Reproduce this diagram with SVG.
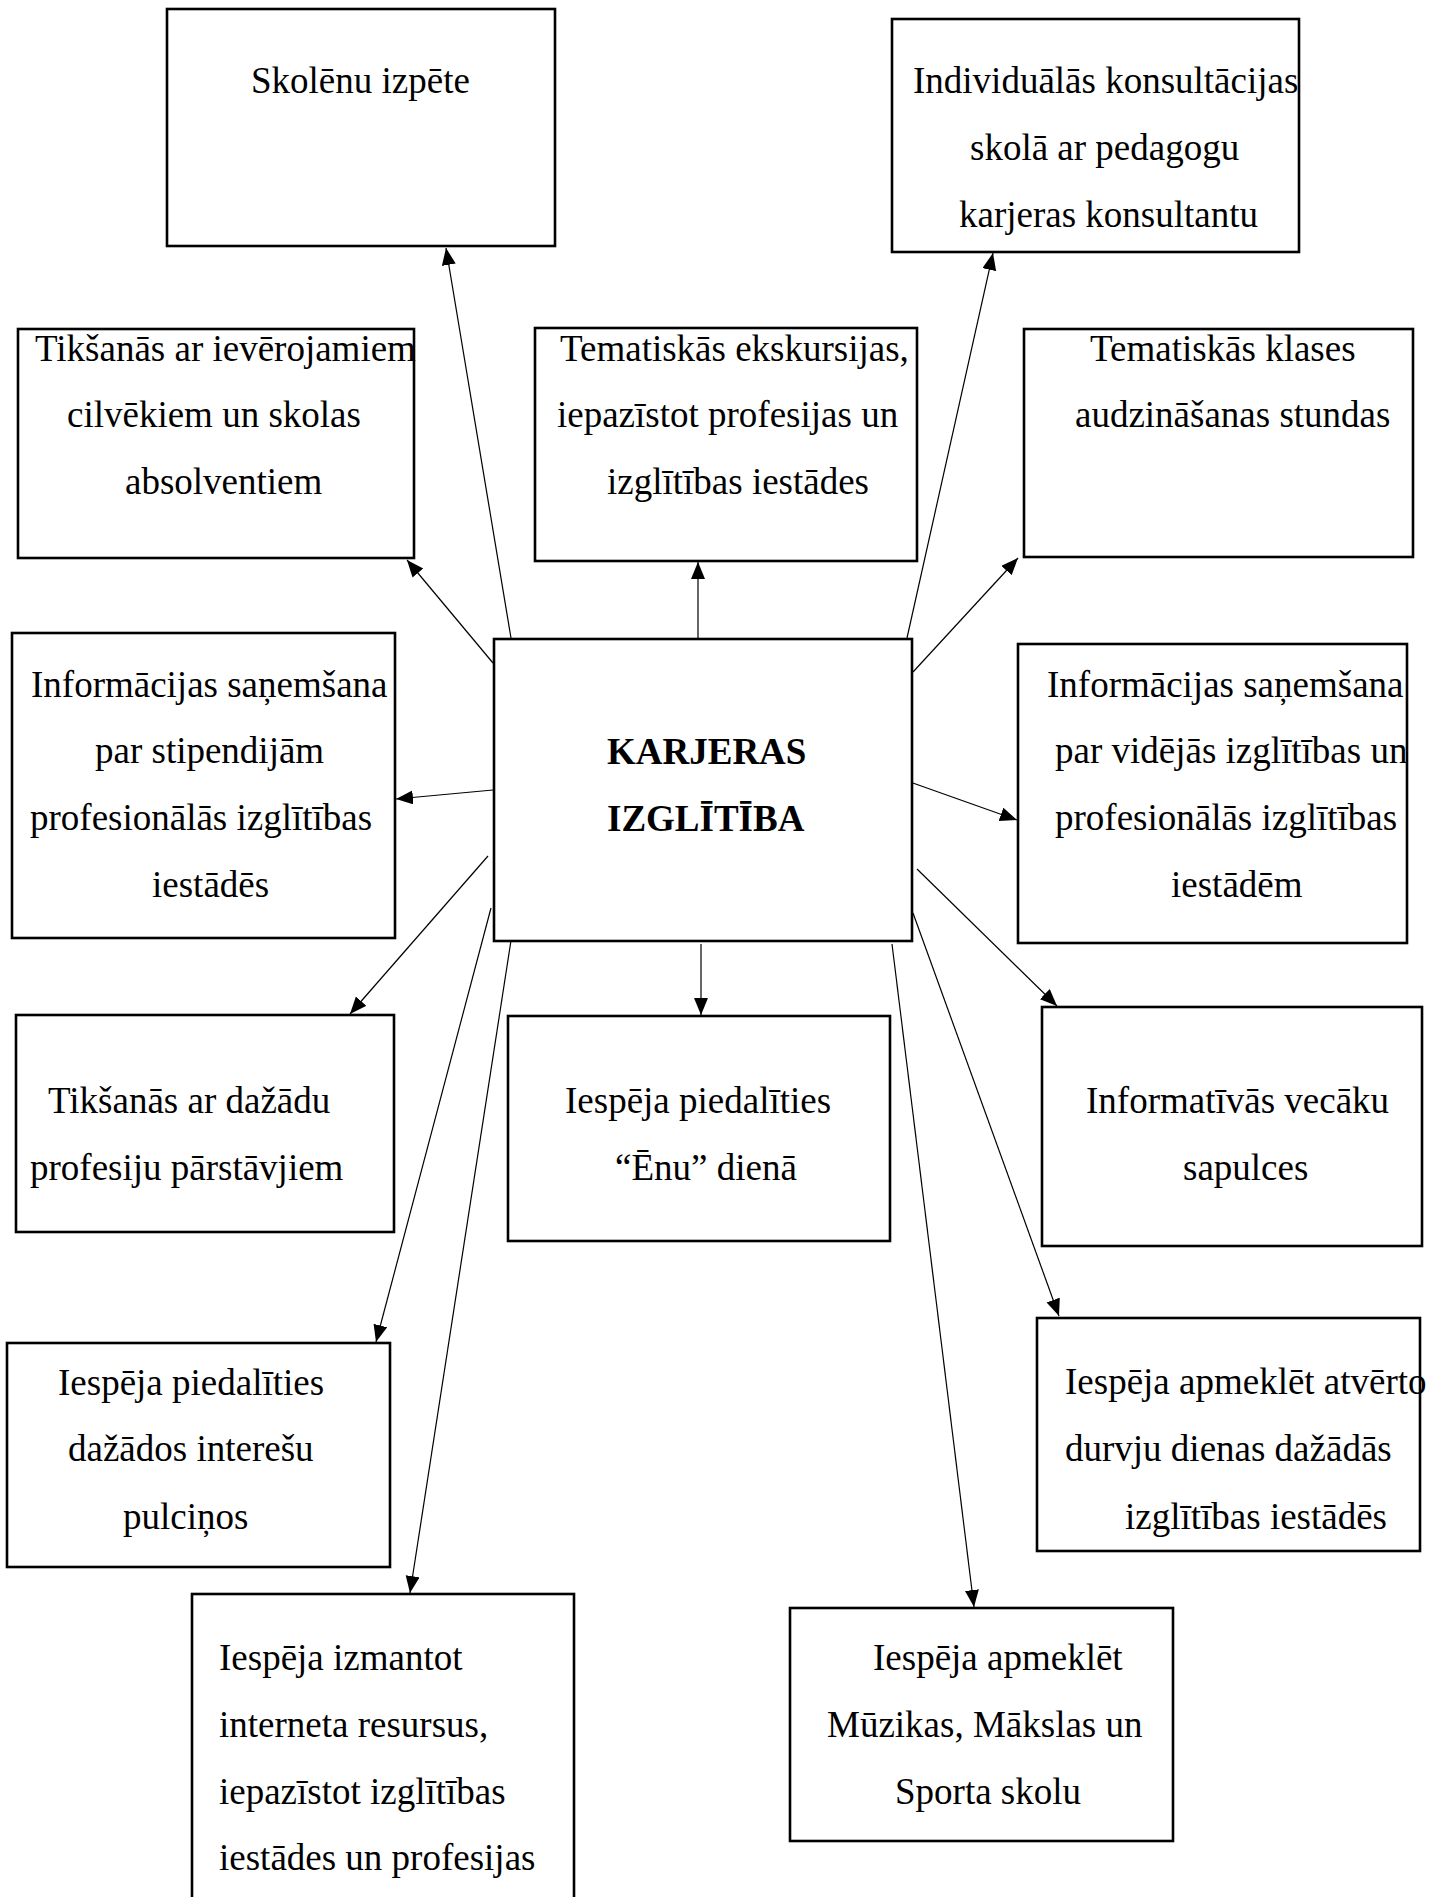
<svg xmlns="http://www.w3.org/2000/svg" width="1443" height="1897" viewBox="0 0 1443 1897">
<style>
.box{fill:#fff;stroke:#000;stroke-width:2.6}
.t{font-family:"Liberation Serif","Times New Roman",serif;font-size:37px;fill:#000}
.b{font-weight:bold}
.c{stroke:#000;stroke-width:1.2;fill:none;marker-end:url(#ah)}
</style>
<defs>
<marker id="ah" markerUnits="userSpaceOnUse" markerWidth="18" markerHeight="15" refX="17" refY="7" orient="auto">
<path d="M0,0 L17,7 L0,14 z" fill="#000"/>
</marker>
</defs>
<rect width="1443" height="1897" fill="#fff"/>
<g id="connectors">
<line class="c" x1="511" y1="638" x2="446" y2="248"/>
<line class="c" x1="493" y1="663" x2="407" y2="560"/>
<line class="c" x1="698" y1="638" x2="698" y2="562"/>
<line class="c" x1="907" y1="638" x2="993" y2="253"/>
<line class="c" x1="913" y1="672" x2="1018" y2="558"/>
<line class="c" x1="493" y1="790" x2="396" y2="799"/>
<line class="c" x1="910" y1="782" x2="1017" y2="820"/>
<line class="c" x1="488" y1="856" x2="350" y2="1014"/>
<line class="c" x1="701" y1="944" x2="701" y2="1015"/>
<line class="c" x1="917" y1="869" x2="1057" y2="1006"/>
<line class="c" x1="491" y1="908" x2="376" y2="1342"/>
<line class="c" x1="913" y1="913" x2="1059" y2="1316"/>
<line class="c" x1="512" y1="934" x2="410" y2="1593"/>
<line class="c" x1="892" y1="944" x2="974" y2="1607"/>
</g>
<g id="n-skolenu">
<rect class="box" x="167" y="9" width="388" height="237"/>
<text class="t" x="251" y="93">Skolēnu izpēte</text>
</g>
<g id="n-individualas">
<rect class="box" x="892" y="19" width="407" height="233"/>
<text class="t" x="913" y="93">Individuālās konsultācijas</text>
<text class="t" x="970" y="160">skolā ar pedagogu</text>
<text class="t" x="959" y="227">karjeras konsultantu</text>
</g>
<g id="n-ieverojamiem">
<rect class="box" x="18" y="329" width="396" height="229"/>
<text class="t" x="35" y="361">Tikšanās ar ievērojamiem</text>
<text class="t" x="67" y="427">cilvēkiem un skolas</text>
<text class="t" x="125" y="494">absolventiem</text>
</g>
<g id="n-ekskursijas">
<rect class="box" x="535" y="328" width="382" height="233"/>
<text class="t" x="560" y="361">Tematiskās ekskursijas,</text>
<text class="t" x="557" y="427">iepazīstot profesijas un</text>
<text class="t" x="607" y="494">izglītības iestādes</text>
</g>
<g id="n-klases">
<rect class="box" x="1024" y="329" width="389" height="228"/>
<text class="t" x="1090" y="361">Tematiskās klases</text>
<text class="t" x="1075" y="427">audzināšanas stundas</text>
</g>
<g id="n-stipendijam">
<rect class="box" x="12" y="633" width="383" height="305"/>
<text class="t" x="31" y="697">Informācijas saņemšana</text>
<text class="t" x="95" y="763">par stipendijām</text>
<text class="t" x="30" y="830">profesionālās izglītības</text>
<text class="t" x="152" y="897">iestādēs</text>
</g>
<g id="n-center">
<rect class="box" x="494" y="639" width="418" height="302"/>
<text class="t b" x="607" y="764">KARJERAS</text>
<text class="t b" x="607" y="831">IZGLĪTĪBA</text>
</g>
<g id="n-videjas">
<rect class="box" x="1018" y="644" width="389" height="299"/>
<text class="t" x="1047" y="697">Informācijas saņemšana</text>
<text class="t" x="1055" y="763">par vidējās izglītības un</text>
<text class="t" x="1055" y="830">profesionālās izglītības</text>
<text class="t" x="1171" y="897">iestādēm</text>
</g>
<g id="n-dazadu">
<rect class="box" x="16" y="1015" width="378" height="217"/>
<text class="t" x="48" y="1113">Tikšanās ar dažādu</text>
<text class="t" x="30" y="1180">profesiju pārstāvjiem</text>
</g>
<g id="n-enu">
<rect class="box" x="508" y="1016" width="382" height="225"/>
<text class="t" x="565" y="1113">Iespēja piedalīties</text>
<text class="t" x="615" y="1180">“Ēnu” dienā</text>
</g>
<g id="n-vecaku">
<rect class="box" x="1042" y="1007" width="380" height="239"/>
<text class="t" x="1086" y="1113">Informatīvās vecāku</text>
<text class="t" x="1183" y="1180">sapulces</text>
</g>
<g id="n-pulcinos">
<rect class="box" x="7" y="1343" width="383" height="224"/>
<text class="t" x="58" y="1395">Iespēja piedalīties</text>
<text class="t" x="68" y="1461">dažādos interešu</text>
<text class="t" x="123" y="1529">pulciņos</text>
</g>
<g id="n-atverto">
<rect class="box" x="1037" y="1318" width="383" height="233"/>
<text class="t" x="1065" y="1394">Iespēja apmeklēt atvērto</text>
<text class="t" x="1065" y="1461">durvju dienas dažādās</text>
<text class="t" x="1125" y="1529">izglītības iestādēs</text>
</g>
<g id="n-izmantot">
<rect class="box" x="192" y="1594" width="382" height="320"/>
<text class="t" x="219" y="1670">Iespēja izmantot</text>
<text class="t" x="219" y="1737">interneta resursus,</text>
<text class="t" x="219" y="1804">iepazīstot izglītības</text>
<text class="t" x="219" y="1870">iestādes un profesijas</text>
</g>
<g id="n-muzikas">
<rect class="box" x="790" y="1608" width="383" height="233"/>
<text class="t" x="873" y="1670">Iespēja apmeklēt</text>
<text class="t" x="827" y="1737">Mūzikas, Mākslas un</text>
<text class="t" x="895" y="1804">Sporta skolu</text>
</g>
</svg>
